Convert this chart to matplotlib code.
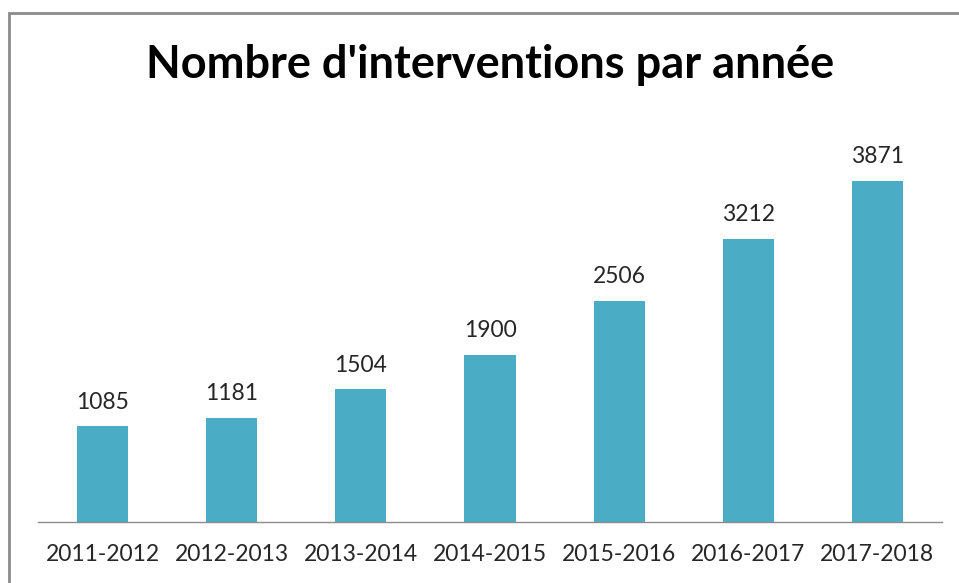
import matplotlib.pyplot as plt
from matplotlib.patches import Rectangle

# donnees
annees = ['2011-2012', '2012-2013', '2013-2014', '2014-2015',
          '2015-2016', '2016-2017', '2017-2018']
interventions = [1085, 1181, 1504, 1900, 2506, 3212, 3871]

plt.rcParams['font.family'] = ['Lato', 'DejaVu Sans']

W, H = 959, 583
fig = plt.figure(figsize=(W / 100, H / 100), dpi=100)

# cadre gris (coupe a droite et en bas)
fig.patches.append(Rectangle((9 / W, -0.1), 1.2, 1 - 13 / H + 0.1,
                             transform=fig.transFigure, fill=False,
                             edgecolor='#8c8c8c', linewidth=2))

ax = fig.add_axes([38 / W, 1 - 522 / H, (942 - 38) / W, (522 - 100) / H])
x = range(len(annees))
barres = ax.bar(x, interventions, width=0.395, color='#4bacc6')

for b, v in zip(barres, interventions):
    ax.annotate(str(v), (b.get_x() + b.get_width() / 2, v),
                xytext=(0, 10), textcoords='offset points',
                ha='center', va='bottom', fontsize=16.5, color='#262626')

ax.set_xlim(-0.5, len(annees) - 0.5)
ax.set_ylim(0, 4790)
ax.set_xticks(list(x))
ax.set_xticklabels(annees, fontsize=16.5, color='#262626')
ax.tick_params(axis='x', length=0, pad=16)
ax.set_yticks([])
for s in ['top', 'right', 'left']:
    ax.spines[s].set_visible(False)
ax.spines['bottom'].set_color('#8c8c8c')
ax.spines['bottom'].set_linewidth(1)

fig.text(490 / W, 1 - 65 / H, "Nombre d'interventions par année",
         ha='center', va='center', fontsize=32.5, fontweight='bold',
         color='black')

fig.savefig('out.png', dpi=100)
